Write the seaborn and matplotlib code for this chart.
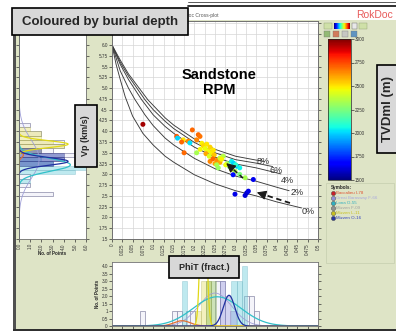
import numpy as np
import matplotlib
matplotlib.use('Agg')
import matplotlib.pyplot as plt
import seaborn as sns
from matplotlib.patches import Rectangle
from matplotlib.colors import Normalize
from matplotlib.cm import ScalarMappable

# ---------------- data ----------------
# rock-physics-model curves (PhiT, Vp)
rpm0_phi = [0, 0.01, 0.02, 0.032, 0.05, 0.075, 0.1, 0.129, 0.15, 0.2, 0.25, 0.3, 0.35, 0.4, 0.46]
rpm0_vp = [6.0, 5.55, 5.2, 4.8, 4.35, 3.95, 3.68, 3.42, 3.28, 2.99, 2.78, 2.62, 2.5, 2.36, 2.22]
rpm2_phi = [0, 0.02, 0.04, 0.056, 0.08, 0.1, 0.129, 0.15, 0.2, 0.25, 0.3, 0.35, 0.4, 0.43]
rpm2_vp = [6.0, 5.4, 5.0, 4.73, 4.38, 4.13, 3.84, 3.68, 3.37, 3.13, 2.96, 2.84, 2.70, 2.62]
rpm4_phi = [0, 0.02, 0.04, 0.072, 0.1, 0.129, 0.15, 0.2, 0.25, 0.3, 0.35, 0.41]
rpm4_vp = [6.0, 5.55, 5.2, 4.73, 4.38, 4.11, 3.95, 3.63, 3.40, 3.24, 3.15, 3.01]
rpm6_phi = [0, 0.02, 0.04, 0.08, 0.1, 0.129, 0.15, 0.2, 0.25, 0.3, 0.35, 0.39]
rpm6_vp = [6.0, 5.6, 5.28, 4.73, 4.5, 4.23, 4.06, 3.74, 3.50, 3.34, 3.26, 3.18]
rpm8_phi = [0, 0.02, 0.04, 0.087, 0.1, 0.129, 0.15, 0.2, 0.25, 0.3, 0.35, 0.37]
rpm8_vp = [6.0, 5.65, 5.33, 4.73, 4.6, 4.31, 4.14, 3.82, 3.58, 3.42, 3.33, 3.30]
rpm_labels = ['0%', '2%', '4%', '6%', '8%']

# well-log samples: PhiT, Vp (km/s), TVDml (m)
pt_phi = [0.075, 0.2095, 0.2136, 0.2055, 0.195, 0.157, 0.159, 0.173, 0.169, 0.185,
          0.189, 0.175, 0.2055, 0.218, 0.222, 0.226, 0.230, 0.234, 0.238, 0.242,
          0.228, 0.236, 0.248, 0.238, 0.245, 0.250, 0.255, 0.262, 0.258, 0.254,
          0.270, 0.262, 0.280, 0.285, 0.266, 0.276, 0.290, 0.290, 0.295, 0.303,
          0.310, 0.300, 0.2985, 0.323, 0.310, 0.294, 0.343, 0.2985, 0.323, 0.327,
          0.331, 0.214, 0.246]
pt_vp = [4.16, 3.92, 3.88, 3.80, 4.03, 3.88, 3.84, 3.80, 3.75, 3.77,
         3.73, 3.50, 3.50, 3.72, 3.66, 3.60, 3.70, 3.55, 3.63, 3.50,
         3.48, 3.42, 3.45, 3.30, 3.36, 3.25, 3.33, 3.28, 3.15, 3.22,
         3.42, 3.38, 3.25, 3.18, 3.35, 3.22, 3.12, 3.30, 3.26, 3.19,
         3.15, 3.22, 3.07, 2.92, 3.00, 2.99, 2.88, 2.54, 2.51, 2.57,
         2.61, 3.58, 3.56]
pt_depth = [2950, 2700, 2680, 2650, 2700, 2720, 2000, 2500, 2700, 2650,
            2020, 2700, 2330, 2480, 2520, 2450, 2500, 2460, 2530, 2480,
            2600, 2420, 2550, 2650, 2700, 2600, 2640, 2600, 2300, 2330,
            2350, 2380, 2300, 2280, 2480, 2450, 2500, 2050, 2000, 1950,
            2050, 2100, 2330, 2330, 2250, 1700, 1650, 1640, 1620, 1600,
            1640, 2470, 2500]

# Vp histogram (left) : bin start (km/s), counts, bin width 0.1
vh_grey_vp = [2.5, 2.7, 2.9, 3.3, 3.4, 3.5, 3.6, 3.7, 3.9, 4.1]
vh_grey_n = [3, 1, 1, 4, 5, 3, 4, 4, 2, 1]
vh_cyan_vp = [2.8, 3.0, 3.1, 3.2, 3.3]
vh_cyan_n = [1, 5, 6, 3, 2]
vh_blue_vp = [3.2, 3.3, 3.4, 3.5]
vh_blue_n = [3, 4, 4, 2]
vh_yell_vp = [3.5, 3.6, 3.7, 3.8, 3.9, 4.0]
vh_yell_n = [2, 4, 3, 2, 2, 1]
# fitted normal curves on Vp: mean, sd, peak count
vfit_names = ['lavender', 'orange', 'cyan', 'yellow', 'blue']
vfit_mu = [3.35, 3.45, 3.22, 3.70, 3.30]
vfit_sd = [0.45, 0.06, 0.15, 0.08, 0.09]
vfit_peak = [1.8, 0.4, 4.6, 4.4, 4.4]

# PhiT histogram (bottom): bin start, counts, bin width 0.0125
ph_grey_phi = [0.0675, 0.145, 0.1575, 0.18, 0.19, 0.25, 0.2625, 0.32, 0.3325, 0.345]
ph_grey_n = [1, 1, 1, 1, 1, 3, 3, 2, 2, 1]
ph_cyan_phi = [0.17, 0.29, 0.3025, 0.315]
ph_cyan_n = [3, 3, 3, 4]
ph_yell_phi = [0.2025, 0.215, 0.2275]
ph_yell_n = [1, 3, 3]
ph_green_phi = [0.2275, 0.24]
ph_green_n = [3, 3]
ph_blue_phi = [0.2625, 0.275, 0.2875]
ph_blue_n = [3, 2, 1]
pfit_names = ['lavender', 'orange', 'cyan', 'yellow', 'blue']
pfit_mu = [0.25, 0.17, 0.255, 0.222, 0.284]
pfit_sd = [0.04, 0.02, 0.058, 0.0065, 0.014]
pfit_peak = [2.2, 0.35, 1.95, 13.0, 2.05]

wells = ['Baccalieu I-78', 'Great Barasway F-66', 'Lona O-55', 'Mizzen F-09', 'Mizzen L-11', 'Mizzen O-16']
well_dot = ['#c8202a', '#9090d8', '#30b0c0', '#909090', '#c8c020', '#2838a0']
well_txt = ['#e05030', '#a8a8e0', '#30b0c0', '#a0a0a0', '#c8c020', '#3040c0']

fitcol = {'lavender': '#a0a0d8', 'orange': '#e07030', 'cyan': '#30c0c8',
          'yellow': '#e0d818', 'blue': '#2030a0'}

# ---------------- figure ----------------
sns.set_theme(style='white')
plt.rcParams['font.family'] = ['Liberation Sans', 'DejaVu Sans']
JET = matplotlib.colormaps['jet']

W, H = 396, 331
PANEL = '#dee4c6'
fig = plt.figure(figsize=(W / 100, H / 100), dpi=100)
fig.patch.set_facecolor('white')


def px_axes(x0, y0, x1, y1, **kw):
    return fig.add_axes([x0 / W, 1 - y1 / H, (x1 - x0) / W, (y1 - y0) / H], **kw)


bg = px_axes(0, 0, W, H, zorder=-10)
bg.set_xlim(0, W); bg.set_ylim(H, 0); bg.axis('off')
bg.add_patch(Rectangle((16, 20), W - 16, H - 22, fc=PANEL, ec='none'))
bg.add_patch(Rectangle((13, 20), 3, H - 20, fc='#505050', ec='none'))
bg.add_patch(Rectangle((13, H - 2.5), W - 13, 2.5, fc='#303030', ec='none'))
bg.plot([188, W], [1.5, 1.5], color='#404040', lw=0.6)
bg.plot([188, W], [6, 6], color='#202020', lw=1.3)
bg.text(176, 15, 'RokDoc Cross-plot', fontsize=3.6, color='#555555', va='center')
bg.text(393, 15, 'RokDoc', fontsize=7.5, color='#e85a5a', ha='right', va='center')
bg.add_patch(Rectangle((326, 183), 68, 80, fc='none', ec='#c9d1b2', lw=0.6))

tick_kw = dict(labelsize=3.3, length=2, width=0.5, pad=1, colors='#333333')
YLIM = (1.5, 6.557)
yt = np.arange(1.5, 6.51, 0.25)
xt = np.arange(0, 0.5001, 0.025)


def fmt_x(v):
    return f"{v:.3f}".rstrip('0').rstrip('.')


def fmt_y(v):
    if v > 6.01:
        return ''
    s = f"{v:.2f}".rstrip('0')
    return s + '0' if s.endswith('.') else s


# ---- main cross-plot ----
ax = px_axes(112, 21, 318, 239)
ax.set_facecolor('white')
rpm_phi = [rpm0_phi, rpm2_phi, rpm4_phi, rpm6_phi, rpm8_phi]
rpm_vp = [rpm0_vp, rpm2_vp, rpm4_vp, rpm6_vp, rpm8_vp]
for ph, vp in zip(rpm_phi, rpm_vp):
    sns.lineplot(x=ph, y=vp, ax=ax, color='#3a3a3a', lw=0.65, sort=False, estimator=None)
sns.scatterplot(x=pt_phi, y=pt_vp, hue=pt_depth, palette=JET, hue_norm=(1500, 3000),
                s=13, linewidth=0, legend=False, ax=ax, zorder=3)
lab_pos = [(0.476, 2.13), (0.449, 2.59), (0.425, 2.85), (0.398, 3.10), (0.367, 3.29)]
for (x, y), t in zip(lab_pos, rpm_labels):
    ax.text(x, y, t, fontsize=6.5, ha='center', va='center', color='#303030', zorder=5)
ax.text(0.26, 5.13, 'Sandstone\nRPM', fontsize=10.5, fontweight='bold', ha='center',
        va='center', linespacing=1.15, color='black')
# arrows
ax.plot([0.318, 0.285], [2.915, 3.195], ls=(0, (3, 2)), color='k', lw=1.1, zorder=4)
ax.annotate('', xy=(0.272, 3.30), xytext=(0.287, 3.18),
            arrowprops=dict(arrowstyle='-|>', mutation_scale=14, color='k', lw=0.8), zorder=4)
ax.plot([0.432, 0.362], [2.335, 2.55], ls=(0, (3, 2)), color='k', lw=1.3, zorder=4)
ax.annotate('', xy=(0.345, 2.60), xytext=(0.365, 2.54),
            arrowprops=dict(arrowstyle='-|>', mutation_scale=14, color='k', lw=0.8), zorder=4)
ax.set_xlim(0, 0.5); ax.set_ylim(*YLIM)
ax.set_xticks(xt); ax.set_yticks(yt)
ax.set_xticklabels([fmt_x(v) for v in xt], rotation=90)
ax.set_yticklabels([fmt_y(v) for v in yt])
ax.grid(True, color='#d6d6d6', lw=0.5)
ax.set_axisbelow(True)
ax.tick_params(right=True, bottom=True, left=True, **tick_kw)
ax.set_xlabel(''); ax.set_ylabel('')
for s in ax.spines.values():
    s.set_color('#707070'); s.set_linewidth(0.7)

# ---- left Vp histogram ----
ax2 = px_axes(19, 21, 86, 239)
ax2.set_facecolor('white')
ax2.barh(vh_grey_vp, vh_grey_n, height=0.1, align='edge', color='#f4f4fa', edgecolor='#8a8aa8', lw=0.5)
ax2.barh(vh_cyan_vp, vh_cyan_n, height=0.1, align='edge', color='#70d0dc', alpha=0.45, edgecolor='#50a0b0', lw=0.4)
ax2.barh(vh_yell_vp, vh_yell_n, height=0.1, align='edge', color='#e6e070', alpha=0.45, edgecolor='#a0a040', lw=0.4)
ax2.barh(vh_blue_vp, vh_blue_n, height=0.1, align='edge', color='#4050b0', alpha=0.55, edgecolor='#303080', lw=0.4)
vgrid = np.linspace(YLIM[0], YLIM[1], 500)
for nm, mu, sd, pk in zip(vfit_names, vfit_mu, vfit_sd, vfit_peak):
    ax2.plot(pk * np.exp(-0.5 * ((vgrid - mu) / sd) ** 2), vgrid, color=fitcol[nm],
             lw=0.9 if nm != 'lavender' else 0.6)
ax2.set_xlim(0, 6); ax2.set_ylim(*YLIM)
ax2.set_xticks(range(7))
ax2.set_xticklabels([f"{v}.0" for v in range(7)], rotation=90)
ax2.set_yticks(yt); ax2.set_yticklabels([])
ax2.tick_params(left=True, right=True, bottom=True, **tick_kw)
ax2.set_xlabel('No. of Points', fontsize=3.3, fontweight='bold', labelpad=1)
for s in ax2.spines.values():
    s.set_color('#707070'); s.set_linewidth(0.6)

# ---- bottom PhiT histogram ----
ax3 = px_axes(112, 262, 318, 326)
ax3.set_facecolor('white')
bw = 0.0125
ax3.bar(ph_grey_phi, ph_grey_n, width=bw, align='edge', color='#f4f4fa', edgecolor='#8a8aa8', lw=0.5)
ax3.bar(ph_cyan_phi, ph_cyan_n, width=bw, align='edge', color='#70d0dc', alpha=0.45, edgecolor='#50a0b0', lw=0.4)
ax3.bar(ph_yell_phi, ph_yell_n, width=bw, align='edge', color='#e6e070', alpha=0.45, edgecolor='#a0a040', lw=0.4)
ax3.bar(ph_green_phi, ph_green_n, width=bw, align='edge', color='#90c060', alpha=0.45, edgecolor='#709040', lw=0.4)
ax3.bar(ph_blue_phi, ph_blue_n, width=bw, align='edge', color='#a0a0e0', alpha=0.45, edgecolor='#7070b0', lw=0.4)
pgrid = np.linspace(0, 0.5, 600)
for nm, mu, sd, pk in zip(pfit_names, pfit_mu, pfit_sd, pfit_peak):
    ax3.plot(pgrid, pk * np.exp(-0.5 * ((pgrid - mu) / sd) ** 2), color=fitcol[nm],
             lw=0.9 if nm != 'lavender' else 0.6)
ax3.set_xlim(0, 0.5); ax3.set_ylim(0, 4.27)
ax3.set_xticks(xt); ax3.set_xticklabels([])
yt3 = [0, 0.5, 1, 1.5, 2, 2.5, 3, 3.5, 4]
ax3.set_yticks(yt3)
ax3.set_yticklabels(['0', '0.5', '1', '1.5', '2.0', '2.5', '3.0', '3.5', '4.0'])
ax3.tick_params(left=True, right=True, bottom=True, **tick_kw)
ax3.set_ylabel('No. of Points', fontsize=3.3, fontweight='bold', labelpad=1)
for s in ax3.spines.values():
    s.set_color('#707070'); s.set_linewidth(0.6)

# ---- colour bar ----
cax = px_axes(328, 39, 351, 180)
cb = fig.colorbar(ScalarMappable(norm=Normalize(1500, 3000), cmap=JET), cax=cax)
cb.set_ticks([1500, 1750, 2000, 2250, 2500, 2750, 3000])
cax.tick_params(**tick_kw)
cb.outline.set_linewidth(0.5)

# ---- overlay: boxes, legend, toolbar ----
ov = px_axes(0, 0, W, H, zorder=20)
ov.set_xlim(0, W); ov.set_ylim(H, 0); ov.axis('off')
ov.patch.set_alpha(0)

box_kw = dict(fc='#d8d8d8', ec='black', lw=1.2)
ov.add_patch(Rectangle((12, 8), 176, 27, **box_kw))
ov.text(100, 21.5, 'Coloured by burial depth', fontsize=9.5, fontweight='bold', ha='center', va='center')
ov.add_patch(Rectangle((75, 105), 22, 62, **box_kw))
ov.text(86, 136, 'Vp (km/s)', fontsize=6.5, fontweight='bold', rotation=90, ha='center', va='center')
ov.add_patch(Rectangle((169, 256), 70, 22, **box_kw))
ov.text(204, 267, 'PhiT (fract.)', fontsize=6.5, fontweight='bold', ha='center', va='center')
ov.add_patch(Rectangle((377, 65), 24, 88, **box_kw))
ov.text(388, 109, 'TVDml (m)', fontsize=9.5, fontweight='bold', rotation=90, ha='center', va='center')

ov.text(331, 187.5, 'Symbols:', fontsize=3.3, fontweight='bold', va='center')
for i, (w, dc, tc) in enumerate(zip(wells, well_dot, well_txt)):
    yy = 193 + 5 * i
    ov.scatter([332.5], [yy], s=9, color=dc, edgecolor='#404040', linewidth=0.3)
    ov.text(336, yy, w, fontsize=3.2, color=tc, va='center')

# toolbar icons above the colour bar
ov.add_patch(Rectangle((324, 23), 8, 6, fc='#cfe0a8', ec='#90a070', lw=0.3))
ov.add_patch(Rectangle((352, 23), 5, 6, fc='#e8e8e8', ec='#606060', lw=0.3))
ov.add_patch(Rectangle((359, 23), 8, 6, fc='#cfe0a8', ec='#90a070', lw=0.3))
rb = px_axes(334, 23, 350, 29, zorder=21)
rb.imshow(np.linspace(0, 1, 64)[None, :], aspect='auto', cmap=JET)
rb.axis('off')
icon_cols = ['#80b060', '#d06040', '#c0c0c0', '#4080c0']
for i, c in enumerate(icon_cols):
    ov.add_patch(Rectangle((324 + 9 * i, 31), 6, 6, fc=c, ec='#707070', lw=0.3, alpha=0.8))

fig.savefig('out.png', dpi=100, facecolor=fig.get_facecolor())
